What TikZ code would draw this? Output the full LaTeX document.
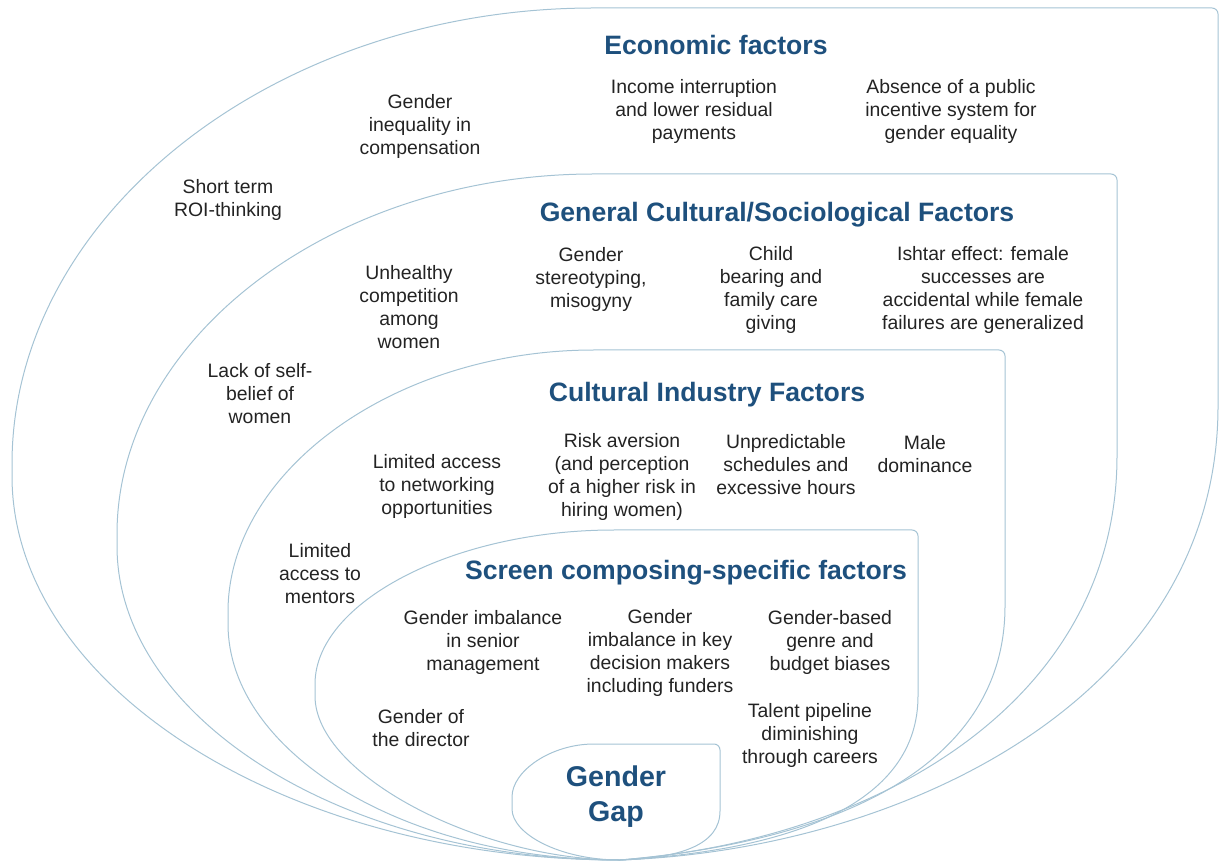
\documentclass[tikz,border=0pt]{standalone}
\usepackage{fontspec}
\setmainfont{Liberation Sans}
\usepackage{tikz}
\usetikzlibrary{calc}

\definecolor{ringline}{RGB}{165,195,212}
\definecolor{headblue}{RGB}{30,80,125}
\definecolor{factext}{RGB}{35,35,35}

\begin{document}
\begin{tikzpicture}[x=0.5pt, y=-0.5pt]
    % outlines of the layers
    \tikzstyle{ring}=[draw=ringline, line width=.5pt, rounded corners=3]
    % layer headings
    \tikzstyle{head}=[inner sep=0, align=center, text=headblue, font=\fontsize{13.3}{16}\selectfont\bfseries]
    % factors inside a layer
    \tikzstyle{fac}=[inner sep=0, align=center, text=factext, font=\fontsize{9.7}{11.5}\selectfont]
    \useasboundingbox (0,0) rectangle (1220,865);

    % economic layer
    \draw[ring] (620,860) .. controls (284,860) and (12,685) .. (12,470)
        .. controls (12,215) and (275,8) .. (600,8) -- (1218,8) -- (1218,400)
        .. controls (1218,700) and (900,850) .. (620,860);
    % general cultural layer
    \draw[ring] (620,860) .. controls (342,860) and (117,717) .. (117,540)
        .. controls (117,338) and (333,174) .. (600,174) -- (1117,174) -- (1117,450)
        .. controls (1117,700) and (880,840) .. (620,860);
    % industry layer
    \draw[ring] (620,860) .. controls (404,860) and (228,752) .. (228,618)
        .. controls (228,471) and (395,350) .. (600,350) -- (1005,350) -- (1005,600)
        .. controls (1005,760) and (850,840) .. (620,860);
    % screen composing layer
    \draw[ring] (620,860) .. controls (480,860) and (315,775) .. (315,690)
        .. controls (315,603) and (452,530) .. (620,530) -- (918,530) -- (918,690)
        .. controls (918,800) and (800,850) .. (620,860);
    % core
    \draw[ring] (620,860) .. controls (560,860) and (512,834) .. (512,803)
        .. controls (512,771) and (551,744) .. (600,744) -- (720,744) -- (720,805)
        .. controls (720,845) and (680,858) .. (620,860);

    \node[head] (ECO) at (716,45) {Economic factors};
    \node[fac] (E1) at ($(ECO)+(-296,81)$) {Gender\\inequality in\\compensation};
    \node[fac] (E2) at ($(ECO)+(-22,66)$) {Income interruption\\and lower residual\\payments};
    \node[fac] (E3) at ($(ECO)+(235,66)$) {Absence of a public\\incentive system for\\gender equality};
    \node[fac] (E4) at ($(ECO)+(-488,155)$) {Short term\\ROI-thinking};

    \node[head] (GCS) at (777,215) {General Cultural/Sociological Factors};
    \node[fac] (G1) at ($(GCS)+(-368,92)$) {Unhealthy\\competition\\among\\women};
    \node[fac] (G2) at ($(GCS)+(-186,64)$) {Gender\\stereotyping,\\misogyny};
    \node[fac] (G3) at ($(GCS)+(-6,75)$) {Child\\bearing and\\family care\\giving};
    \node[fac] (G4) at ($(GCS)+(206,75)$) {Ishtar effect: female\\successes are\\accidental while female\\failures are generalized};
    \node[fac] (G5) at ($(GCS)+(-517,179)$) {Lack of self-\\belief of\\women};

    \node[head] (CIF) at (707,395) {Cultural Industry Factors};
    \node[fac] (C1) at ($(CIF)+(-270,91)$) {Limited access\\to networking\\opportunities};
    \node[fac] (C2) at ($(CIF)+(-85,82)$) {Risk aversion\\(and perception\\of a higher risk in\\hiring women)};
    \node[fac] (C3) at ($(CIF)+(79,70)$) {Unpredictable\\schedules and\\excessive hours};
    \node[fac] (C4) at ($(CIF)+(218,59)$) {Male\\dominance};
    \node[fac] (C5) at ($(CIF)+(-387,179)$) {Limited\\access to\\mentors};

    \node[head] (SCF) at (686,573) {Screen composing-specific factors};
    \node[fac] (S1) at ($(SCF)+(-203,69)$) {Gender imbalance\\in senior\\management};
    \node[fac] (S2) at ($(SCF)+(-26,80)$) {Gender\\imbalance in key\\decision makers\\including funders};
    \node[fac] (S3) at ($(SCF)+(144,69)$) {Gender-based\\genre and\\budget biases};
    \node[fac] (S4) at ($(SCF)+(-265,155)$) {Gender of\\the director};
    \node[fac] (S5) at ($(SCF)+(124,162)$) {Talent pipeline\\diminishing\\through careers};

    \node[head, font=\fontsize{14.3}{17.5}\selectfont\bfseries] (GAP) at (616,797) {Gender\\Gap};
\end{tikzpicture}
\end{document}
